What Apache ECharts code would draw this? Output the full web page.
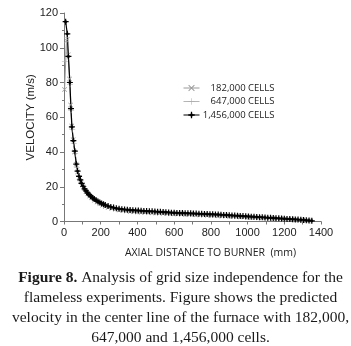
<!DOCTYPE html>
<html>
<head>
<meta charset="utf-8">
<script src="https://cdn.jsdelivr.net/npm/echarts@6/dist/echarts.min.js"></script>
<style>
  html, body { margin: 0; padding: 0; background: #fff; }
  #chart { width: 351px; height: 346px; }
</style>
</head>
<body>
<div id="chart"></div>
<script>
// 1,456,000 cells (black, plus with dot)
const fineX = [9, 18, 24, 32, 38, 43, 51, 59, 67, 74, 82, 89, 96, 104, 112, 120, 128, 136, 145, 155,
  165, 175, 185, 195, 205, 215, 225, 240, 255, 270, 285, 300, 315, 330, 345, 360, 375, 390, 405, 420,
  435, 450, 465, 480, 495, 510, 525, 540, 555, 570, 585, 600, 615, 630, 645, 660, 675, 690, 705, 720,
  735, 750, 765, 780, 795, 810, 825, 840, 855, 870, 885, 900, 915, 930, 945, 960, 975, 990, 1005, 1020,
  1035, 1050, 1065, 1080, 1095, 1110, 1125, 1140, 1155, 1170, 1185, 1200, 1215, 1230, 1245, 1260, 1275, 1290, 1305, 1320,
  1335, 1350];
const fineY = [115, 108, 95, 80, 65, 54.5, 46.5, 40.5, 33, 29, 26, 24, 22, 20.3, 18.8, 17.6, 16.5, 15.5, 14.6, 13.7,
  12.9, 12.2, 11.5, 10.9, 10.4, 9.9, 9.5, 8.9, 8.4, 8.0, 7.6, 7.3, 7.1, 6.9, 6.75, 6.6, 6.5, 6.4, 6.3, 6.2,
  6.1, 6.0, 5.9, 5.85, 5.75, 5.65, 5.55, 5.45, 5.35, 5.25, 5.1, 5.0, 4.95, 4.9, 4.85, 4.8, 4.75, 4.7, 4.6, 4.55,
  4.5, 4.4, 4.35, 4.3, 4.2, 4.15, 4.05, 4.0, 3.9, 3.8, 3.7, 3.6, 3.5, 3.4, 3.3, 3.2, 3.1, 3.0, 2.9, 2.8,
  2.7, 2.6, 2.5, 2.4, 2.3, 2.2, 2.1, 2.0, 1.9, 1.8, 1.7, 1.6, 1.5, 1.4, 1.3, 1.2, 1.1, 1.0, 0.85, 0.7,
  0.55, 0.4];

// 182,000 cells (gray cross)
const coarseX = [3, 14, 23, 30, 36, 42, 50, 58, 66, 74, 82, 90, 100, 110, 120, 130, 140, 150, 165, 180,
  195, 210, 225, 240, 260, 280, 300, 320, 340, 360, 380, 400, 420, 440, 460, 480, 500, 520, 540, 560,
  580, 600, 620, 640, 660, 680, 700, 720, 740, 760, 780, 800, 820, 840, 860, 880, 900, 920, 940, 960,
  980, 1000, 1020, 1040, 1060, 1080, 1100, 1120, 1140, 1160, 1180, 1200, 1220, 1240, 1260, 1280, 1300, 1320, 1340];
const coarseY = [76, 104, 96, 82, 67, 55, 47, 40, 33, 28.5, 25.3, 23.2, 21, 19, 17.3, 15.9, 14.7, 13.6, 12.3, 11.2,
  10.2, 9.4, 8.7, 8.1, 7.5, 7.0, 6.6, 6.3, 6.0, 5.8, 5.6, 5.45, 5.3, 5.2, 5.1, 5.0, 4.9, 4.8, 4.7, 4.6,
  4.5, 4.4, 4.3, 4.2, 4.15, 4.1, 4.0, 3.9, 3.8, 3.7, 3.6, 3.5, 3.4, 3.3, 3.2, 3.1, 3.0, 2.9, 2.8, 2.7,
  2.6, 2.5, 2.4, 2.3, 2.2, 2.1, 2.0, 1.9, 1.8, 1.7, 1.6, 1.45, 1.3, 1.2, 1.05, 0.9, 0.75, 0.6, 0.45];

// 647,000 cells (thin gray plus)
const mediumX = [5, 16, 24, 33, 39, 45, 53, 61, 70, 80, 90, 100, 115, 130, 145, 160, 180, 200, 220, 240,
  270, 300, 330, 360, 400, 450, 500, 550, 600, 650, 700, 750, 800, 850, 900, 950, 1000, 1050, 1100, 1150,
  1200, 1250, 1300, 1345];
const mediumY = [92, 106, 95, 79, 64, 53, 45, 39, 31, 26.3, 23.3, 21.2, 18.6, 16.5, 14.8, 13.4, 11.9, 10.7, 9.7, 8.9,
  8.0, 7.2, 6.7, 6.3, 5.95, 5.6, 5.3, 5.0, 4.75, 4.5, 4.3, 4.05, 3.8, 3.5, 3.25, 2.95, 2.7, 2.4, 2.1, 1.85,
  1.55, 1.25, 0.9, 0.45];

const seriesNames = ['182,000 CELLS', '647,000 CELLS', '1,456,000 CELLS'];
const xTicks = { min: 0, max: 1400, interval: 200 };
const yTicks = { min: 0, max: 120, interval: 20 };

const pair = (xs, ys) => xs.map((x, i) => [x, ys[i]]);

// marker shapes
const plusDot = 'path://M0,4H10V6H0Z M4,0H6V10H4Z M3,3H7V7H3Z';
const plusThin = 'path://M0,4.6H10V5.4H0Z M4.6,0H5.4V10H4.6Z';
const cross = 'path://M0,1L1,0L10,9L9,10Z M9,0L10,1L1,10L0,9Z';

const chart = echarts.init(document.getElementById('chart'), null, { renderer: 'canvas' });

const axisFont = { fontFamily: 'Liberation Sans', fontSize: 11, color: '#222', formatter: v => String(v) };

const option = {
  animation: false,
  backgroundColor: '#fff',
  title: {
    left: 175.5,
    top: 263,
    textAlign: 'center',
    text: '{b|Figure 8.} Analysis of grid size independence for the\nflameless experiments. Figure shows the predicted\nvelocity in the center line of the furnace with 182,000,\n647,000 and 1,456,000 cells.',
    textStyle: {
      fontFamily: 'Liberation Serif',
      fontSize: 15.5,
      fontWeight: 'normal',
      color: '#1a1a1a',
      lineHeight: 20,
      rich: {
        b: { fontFamily: 'Liberation Serif', fontSize: 15.5, fontWeight: 'bold', color: '#1a1a1a', lineHeight: 20 }
      }
    }
  },
  legend: {
    orient: 'vertical',
    left: 183,
    top: 83,
    padding: 0,
    itemGap: 2,
    itemWidth: 16,
    itemHeight: 8,
    data: seriesNames,
    lineStyle: { width: 1 },
    formatter: name => '{t|' + name + '}',
    textStyle: {
      rich: {
        t: { width: 70, align: 'right', fontFamily: 'Open Sans', fontSize: 9.5, lineHeight: 10, color: '#222' }
      }
    },
    itemGap: 3.5
  },
  grid: { left: 64, right: 30, top: 13, bottom: 124.5, containLabel: false },
  xAxis: {
    type: 'value',
    min: xTicks.min,
    max: xTicks.max,
    interval: xTicks.interval,
    name: 'AXIAL DISTANCE TO BURNER  (mm)',
    nameLocation: 'middle',
    nameGap: 26,
    nameMoveOverlap: false,
    nameTextStyle: { fontFamily: 'Open Sans', fontSize: 10.5, color: '#222', padding: [0, 0, 0, 36] },
    axisLine: { lineStyle: { color: '#777', width: 1 } },
    axisTick: { length: 3, lineStyle: { color: '#777' } },
    minorTick: { show: true, splitNumber: 2, length: 3, lineStyle: { color: '#777' } },
    splitLine: { show: false },
    axisLabel: Object.assign({ margin: 6 }, axisFont)
  },
  yAxis: {
    type: 'value',
    min: yTicks.min,
    max: yTicks.max,
    interval: yTicks.interval,
    name: 'VELOCITY (m/s)',
    nameLocation: 'middle',
    nameGap: 27.5,
    nameMoveOverlap: false,
    nameTextStyle: { fontFamily: 'Liberation Sans', fontSize: 11.5, color: '#222' },
    axisLine: { show: true, lineStyle: { color: '#777', width: 1 } },
    axisTick: { show: true, length: 4, lineStyle: { color: '#777' } },
    minorTick: { show: true, splitNumber: 2, length: 2, lineStyle: { color: '#777' } },
    splitLine: { show: false },
    axisLabel: Object.assign({ margin: 6 }, axisFont)
  },
  series: [
    {
      name: seriesNames[0],
      type: 'line',
      data: pair(coarseX, coarseY),
      symbol: cross,
      symbolSize: 5,
      showAllSymbol: true,
      itemStyle: { color: '#9a9a9a' },
      lineStyle: { color: '#9a9a9a', width: 1 }
    },
    {
      name: seriesNames[1],
      type: 'line',
      data: pair(mediumX, mediumY),
      symbol: plusThin,
      symbolSize: 6,
      showAllSymbol: true,
      itemStyle: { color: '#aaaaaa' },
      lineStyle: { color: '#b5b5b5', width: 0.8 }
    },
    {
      name: seriesNames[2],
      type: 'line',
      data: pair(fineX, fineY),
      symbol: plusDot,
      symbolSize: 6,
      showAllSymbol: true,
      itemStyle: { color: '#000' },
      lineStyle: { color: '#000', width: 1.2 }
    }
  ]
};

chart.setOption(option);
</script>
</body>
</html>
